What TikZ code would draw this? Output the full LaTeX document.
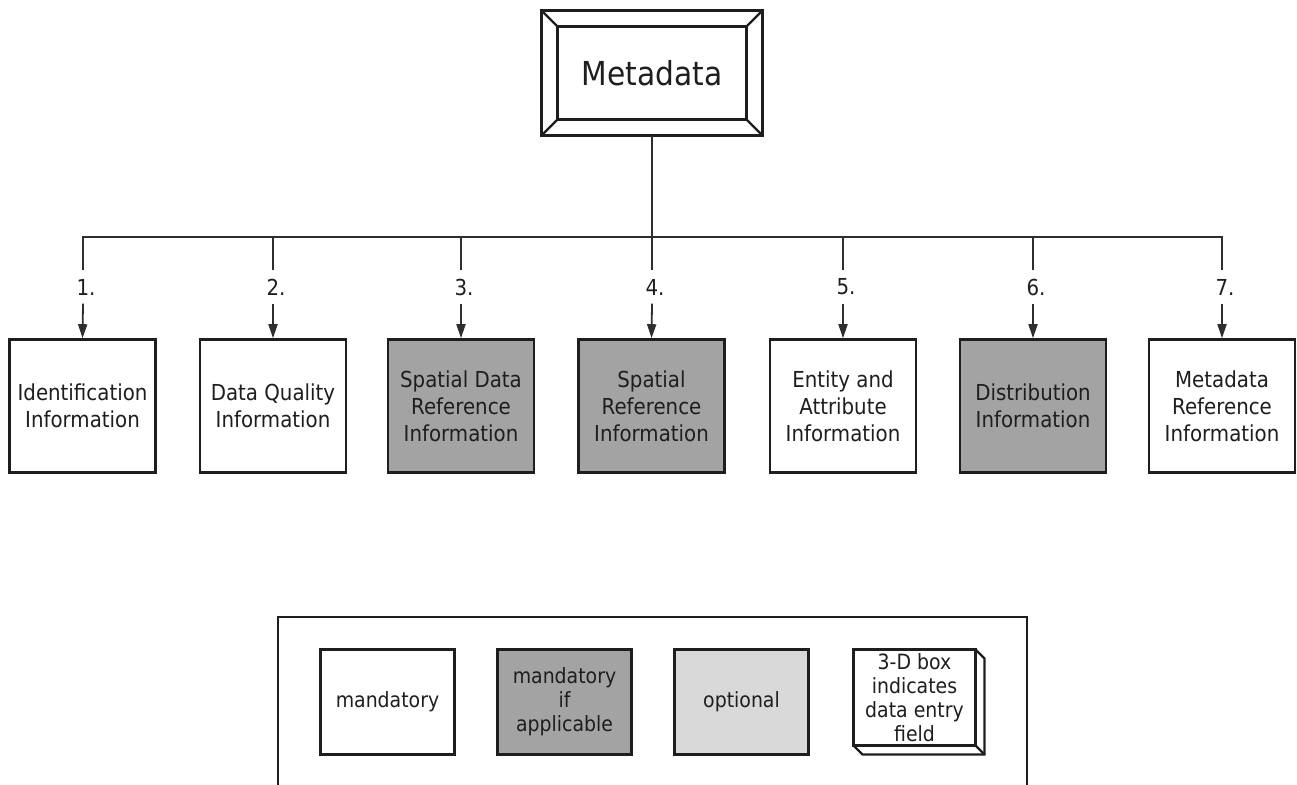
\documentclass[tikz,border=0pt]{standalone}
\usepackage{fontspec}
\setmainfont[FakeStretch=0.9]{DejaVu Sans}
\usetikzlibrary{arrows.meta,calc}

\definecolor{ink}{HTML}{1E1E1E}
\definecolor{wire}{HTML}{2E2E2E}
\definecolor{condfill}{HTML}{A3A3A3}
\definecolor{optfill}{HTML}{D9D9D9}

\tikzset{
  section/.style={draw=ink, line width=2.6pt, fill=white, text=ink,
    minimum width=146pt, minimum height=133pt, inner sep=0pt, align=center,
    font=\fontsize{22}{27}\selectfont},
  condsection/.style={section, fill=condfill},
  numlabel/.style={inner sep=0pt, minimum height=33pt, text=ink,
    font=\fontsize{22}{26}\selectfont},
  wireline/.style={draw=wire, line width=1.8pt},
  feed/.style={wireline, -{Triangle[length=14pt,width=9pt]}},
  keybox/.style={draw=ink, line width=2.6pt, fill=white, text=ink,
    minimum width=134pt, minimum height=105pt, inner sep=0pt, outer sep=0pt,
    align=center, font=\fontsize{21}{24}\selectfont},
  heading/.style={draw=ink, line width=2.8pt, fill=white, text=ink,
    minimum width=221pt, minimum height=125pt, inner sep=0pt, outer sep=0pt,
    font=\fontsize{33}{38}\selectfont}
}

\begin{document}
\begin{tikzpicture}[x=1pt,y=-1pt]
  \clip (0,0) rectangle (1297,784);
  \fill[white] (0,0) rectangle (1297,784);

  % root box with bevelled frame
  \node[heading] (meta) at (652,73) {Metadata};
  \coordinate (mi1) at ($(meta.north west)+(16,16)$);
  \coordinate (mi2) at ($(meta.north east)+(-16,16)$);
  \coordinate (mi3) at ($(meta.south east)+(-16,-16)$);
  \coordinate (mi4) at ($(meta.south west)+(16,-16)$);
  \draw[draw=ink, line width=2.8pt, line join=miter]
    (mi1) -- (mi2) -- (mi3) -- (mi4) -- cycle;
  \draw[draw=ink, line width=2.4pt]
    (meta.north west) -- (mi1)
    (meta.north east) -- (mi2)
    (meta.south east) -- (mi3)
    (meta.south west) -- (mi4);

  % the seven sections
  \node[section]     (b1) at (82.5,406)  {Identification\\Information};
  \node[section]     (b2) at (273,406)   {Data Quality\\Information};
  \node[condsection] (b3) at (461,406)   {Spatial Data\\Reference\\Information};
  \node[condsection] (b4) at (651.5,406) {Spatial\\Reference\\Information};
  \node[section]     (b5) at (843,406)   {Entity and\\Attribute\\Information};
  \node[condsection] (b6) at (1033,406)  {Distribution\\Information};
  \node[section]     (b7) at (1222,406)  {Metadata\\Reference\\Information};

  % bus
  \coordinate (bus) at (652,237);
  \foreach \i/\x in {1/83,2/273,3/461,4/652,5/843,6/1033,7/1222}{
    \coordinate (j\i) at (\x,237);
    \node[numlabel] (n\i) at (\x+3,287) {\i.};
  }
  \draw[wireline] (meta.south) -- (bus);
  \draw[wireline, line cap=rect] (j1) -- (j7);
  \foreach \i in {1,...,7}{
    \draw[wireline] (j\i) -- (j\i |- n\i.north);
    \draw[feed] (j\i |- n\i.south) -- (b\i.north);
  }

  % legend
  \node[draw=ink, line width=2.4pt, minimum width=749pt, minimum height=200pt,
        inner sep=0pt, outer sep=0pt, anchor=north west] (legend) at (278,617) {};
  \node[keybox] (k1) at (387.5,702) {mandatory};
  \node[keybox, fill=condfill] (k2) at (564.5,702) {mandatory\\if\\applicable};
  \node[keybox, fill=optfill] (k3) at (741.5,702) {optional};
  \node[keybox, minimum width=122pt, minimum height=96pt] (k4) at (914.5,697.5)
    {3-D box\\indicates\\data entry\\field};
  \draw[draw=ink, line width=2.4pt, line join=miter]
    (k4.north east) -- ++(9,9) -- ($(k4.south east)+(9,9)$)
    -- ($(k4.south west)+(9,9)$) -- (k4.south west);
  \draw[draw=ink, line width=2.4pt] (k4.south east) -- ++(9,9);
\end{tikzpicture}
\end{document}
